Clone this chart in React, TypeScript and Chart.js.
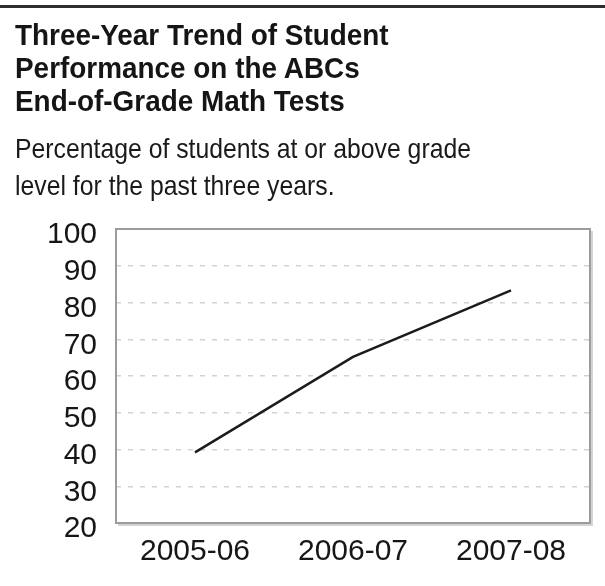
import React, { useEffect, useRef } from "react";
import { Chart, registerables } from "chart.js";

Chart.register(...registerables);

const titleLines = [
  "Three-Year Trend of Student",
  "Performance on the ABCs",
  "End-of-Grade Math Tests",
];
const subtitleLines = [
  "Percentage of students at or above grade",
  "level for the past three years.",
];
const years = ["2005-06", "2006-07", "2007-08"];
const percentAtOrAbove = [39.2, 65.2, 83.3];
const yMin = 20;
const yMax = 100;
const yStep = 10;

const FONT = "'Liberation Sans', Arial, Helvetica, sans-serif";

const framePlugin = {
  id: "frame",
  afterDatasetsDraw(chart: any) {
    const { ctx, chartArea: a } = chart;
    ctx.save();
    ctx.strokeStyle = "#d4d4d4";
    ctx.lineWidth = 2;
    ctx.beginPath();
    ctx.moveTo(a.right + 2, a.top + 2);
    ctx.lineTo(a.right + 2, a.bottom + 2);
    ctx.lineTo(a.left + 2, a.bottom + 2);
    ctx.stroke();
    ctx.strokeStyle = "#9c9c9c";
    ctx.lineWidth = 2;
    ctx.strokeRect(a.left, a.top, a.right - a.left, a.bottom - a.top);
    ctx.restore();
  },
};

export default function App() {
  const canvasRef = useRef<HTMLCanvasElement | null>(null);

  useEffect(() => {
    if (!canvasRef.current) return;
    const chart = new Chart(canvasRef.current, {
      type: "line",
      data: {
        labels: years,
        datasets: [
          {
            data: percentAtOrAbove,
            borderColor: "#1c1c1c",
            borderWidth: 2.5,
            pointRadius: 0,
            tension: 0,
            fill: false,
          },
        ],
      },
      options: {
        responsive: false,
        animation: false,
        events: [],
        layout: { padding: { top: 229, right: 15, left: 0, bottom: 0 } },
        plugins: {
          legend: { display: false },
          title: { display: false },
          tooltip: { enabled: false },
        },
        scales: {
          x: {
            offset: true,
            grid: { display: false, drawTicks: false },
            border: { display: false },
            ticks: {
              color: "#161616",
              font: { family: FONT, size: 30 },
              padding: 11,
              maxRotation: 0,
              autoSkip: false,
            },
            afterFit(scale: any) {
              scale.height = 63;
            },
          },
          y: {
            min: yMin,
            max: yMax,
            grid: {
              color: (c: any) =>
                c.tick && (c.tick.value === yMin || c.tick.value === yMax)
                  ? "rgba(0,0,0,0)"
                  : "#d2d2d2",
              lineWidth: 1.5,
              drawTicks: false,
            },
            border: { display: false, dash: [5, 7] },
            ticks: {
              stepSize: yStep,
              autoSkip: false,
              color: "#161616",
              font: { family: FONT, size: 30, lineHeight: 1 },
              padding: 19,
              labelOffset: 6,
            },
            afterFit(scale: any) {
              scale.width = 116;
            },
          },
        },
      },
      plugins: [framePlugin],
    });
    return () => chart.destroy();
  }, []);

  return (
    <div
      style={{
        position: "absolute",
        left: 0,
        top: 0,
        width: 605,
        height: 586,
        background: "#fff",
        overflow: "hidden",
      }}
    >
      <canvas
        ref={canvasRef}
        width={605}
        height={586}
        style={{ position: "absolute", left: 0, top: 0, width: 605, height: 586 }}
      />
      <div
        style={{
          position: "absolute",
          left: 0,
          top: 5,
          width: 605,
          height: 3,
          background: "#2e2e2e",
        }}
      />
      <div
        style={{
          position: "absolute",
          left: 15,
          top: 18,
          fontFamily: FONT,
          fontWeight: "bold",
          fontSize: 30,
          lineHeight: "33px",
          color: "#151515",
          whiteSpace: "nowrap",
          transform: "scaleX(0.93)",
          transformOrigin: "left top",
        }}
      >
        {titleLines.map((t) => (
          <div key={t}>{t}</div>
        ))}
      </div>
      <div
        style={{
          position: "absolute",
          left: 15,
          top: 131,
          fontFamily: FONT,
          fontSize: 28,
          lineHeight: "36.5px",
          color: "#1a1a1a",
          whiteSpace: "nowrap",
          transform: "scaleX(0.885)",
          transformOrigin: "left top",
        }}
      >
        {subtitleLines.map((t) => (
          <div key={t}>{t}</div>
        ))}
      </div>
    </div>
  );
}
